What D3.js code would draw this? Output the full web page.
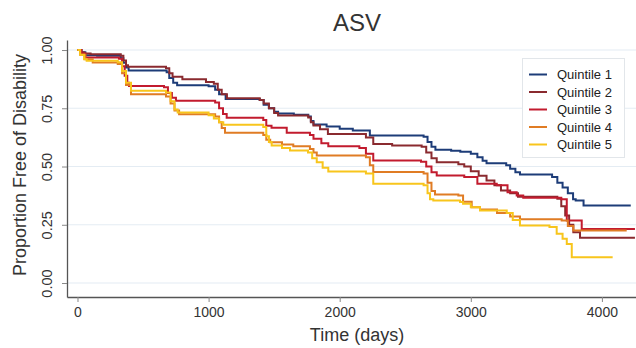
<!DOCTYPE html>
<html>
<head>
<meta charset="utf-8">
<script src="https://cdn.jsdelivr.net/npm/d3@7"></script>
<style>
  body { margin: 0; background: #fff; }
  text { font-family: "Liberation Sans", Arial, sans-serif; }
</style>
</head>
<body>
<svg id="chart" width="636" height="348"></svg>
<script>
// Kaplan-Meier curves: [time (days), proportion free]
const quintiles = ["Quintile 1", "Quintile 2", "Quintile 3", "Quintile 4", "Quintile 5"];
const colors = ["#1d3c78", "#8a2a2f", "#c21b2e", "#e07c24", "#f8c51c"];

const q1 = [[0,1],[30,0.99],[60,0.978],[150,0.975],[330,0.965],[350,0.945],[370,0.925],[390,0.912],
  [680,0.905],[700,0.88],[730,0.86],[760,0.849],[1000,0.845],[1050,0.83],[1080,0.81],[1130,0.79],
  [1390,0.785],[1420,0.765],[1460,0.75],[1500,0.735],[1530,0.728],[1650,0.722],[1760,0.715],
  [1780,0.695],[1800,0.68],[1900,0.672],[2000,0.662],[2100,0.655],[2230,0.633],[2640,0.628],
  [2670,0.605],[2700,0.585],[2730,0.572],[2850,0.568],[2920,0.563],[3000,0.555],[3050,0.54],
  [3090,0.525],[3120,0.514],[3270,0.505],[3300,0.49],[3340,0.475],[3375,0.466],[3620,0.455],
  [3660,0.43],[3700,0.41],[3740,0.385],[3780,0.36],[3800,0.354],[3860,0.333],[4220,0.333]];
const q2 = [[0,1],[30,0.99],[50,0.985],[100,0.982],[330,0.975],[350,0.955],[370,0.935],[385,0.928],
  [675,0.922],[700,0.9],[725,0.885],[800,0.875],[980,0.863],[1040,0.855],[1070,0.83],[1100,0.81],
  [1140,0.793],[1390,0.785],[1420,0.77],[1460,0.75],[1500,0.73],[1530,0.719],[1760,0.71],
  [1780,0.69],[1800,0.676],[1850,0.66],[1910,0.64],[2200,0.625],[2256,0.597],[2400,0.59],
  [2625,0.585],[2660,0.56],[2700,0.535],[2740,0.518],[2905,0.51],[2950,0.5],[3000,0.48],
  [3060,0.46],[3120,0.44],[3180,0.42],[3230,0.397],[3300,0.385],[3360,0.37],[3660,0.362],
  [3690,0.33],[3720,0.29],[3750,0.25],[3782,0.218],[3833,0.194],[4252,0.194]];
const q3 = [[0,1],[30,0.985],[60,0.968],[316,0.962],[340,0.93],[360,0.89],[380,0.86],[393,0.846],
  [660,0.84],[690,0.815],[720,0.795],[751,0.782],[1050,0.775],[1080,0.75],[1110,0.725],[1138,0.709],
  [1417,0.7],[1440,0.675],[1480,0.666],[1596,0.645],[1773,0.635],[1800,0.619],[1860,0.6],
  [1913,0.587],[2150,0.58],[2200,0.555],[2256,0.526],[2620,0.52],[2660,0.5],[2700,0.475],
  [2740,0.461],[2950,0.455],[3050,0.426],[3198,0.42],[3280,0.39],[3350,0.376],[3400,0.366],
  [3690,0.36],[3732,0.268],[3846,0.232],[4252,0.232]];
const q4 = [[0,1],[20,0.98],[60,0.96],[116,0.946],[307,0.94],[340,0.9],[370,0.85],[408,0.81],
  [675,0.8],[710,0.77],[740,0.74],[775,0.724],[1050,0.715],[1080,0.69],[1100,0.665],[1125,0.645],
  [1417,0.635],[1440,0.615],[1470,0.604],[1560,0.595],[1646,0.587],[1773,0.575],[1800,0.56],
  [1825,0.547],[2200,0.54],[2230,0.505],[2256,0.476],[2640,0.47],[2670,0.43],[2700,0.395],
  [2727,0.38],[2905,0.376],[2941,0.349],[3007,0.325],[3070,0.316],[3200,0.3],[3300,0.285],
  [3375,0.274],[3693,0.268],[3740,0.245],[3782,0.225],[4189,0.225]];
const q5 = [[0,1],[20,0.98],[50,0.96],[70,0.954],[307,0.948],[340,0.91],[370,0.86],[408,0.825],
  [675,0.818],[710,0.78],[740,0.745],[764,0.732],[1000,0.72],[1040,0.706],[1080,0.69],[1112,0.679],
  [1417,0.67],[1440,0.63],[1460,0.605],[1481,0.59],[1560,0.58],[1621,0.569],[1758,0.56],
  [1790,0.535],[1825,0.518],[1870,0.495],[1913,0.479],[2200,0.47],[2256,0.426],[2640,0.42],
  [2670,0.385],[2689,0.36],[2714,0.354],[2918,0.348],[2941,0.34],[3000,0.325],[3070,0.311],
  [3274,0.3],[3320,0.27],[3375,0.247],[3600,0.24],[3655,0.211],[3700,0.19],[3732,0.168],
  [3770,0.111],[4082,0.111]];
const series = [q1, q2, q3, q4, q5];

const xTicks = [0, 1000, 2000, 3000, 4000];
const yTicks = [0, 0.25, 0.5, 0.75, 1];

const svg = d3.select("#chart");

const x = d3.scaleLinear().domain([-80, 4260]).range([67, 636]);
const y = d3.scaleLinear().domain([-0.06, 1.043]).range([297, 40]);

// grid
svg.append("g")
  .selectAll("line")
  .data(yTicks)
  .enter()
  .append("line")
  .attr("x1", 67)
  .attr("x2", 636)
  .attr("y1", d => y(d))
  .attr("y2", d => y(d))
  .attr("stroke", "#e4ecf3")
  .attr("stroke-width", 1.2);

// axes
const xAxis = svg.append("g")
  .attr("transform", "translate(0,297)")
  .call(d3.axisBottom(x).tickValues(xTicks).tickFormat(d3.format("d")).tickSize(5).tickSizeOuter(0).tickPadding(5));
xAxis.select(".domain").attr("stroke", "#555").attr("stroke-width", 1.3);
xAxis.selectAll(".tick line").attr("stroke", "#888");
xAxis.selectAll("text")
  .attr("fill", "#333")
  .style("font-size", "14px")
  .style("font-family", "Liberation Sans, Arial, sans-serif");

const yAxis = svg.append("g")
  .attr("transform", "translate(67,0)")
  .call(d3.axisLeft(y).tickValues(yTicks).tickFormat(d3.format(".2f")).tickSize(5).tickSizeOuter(0));
yAxis.select(".domain").attr("stroke", "#555").attr("stroke-width", 1.3);
yAxis.selectAll(".tick line").attr("stroke", "#888");
yAxis.selectAll("text")
  .attr("x", 0)
  .attr("dy", 0)
  .attr("transform", "translate(-15,0) rotate(-90)")
  .attr("text-anchor", "middle")
  .attr("fill", "#333")
  .style("font-size", "14.5px")
  .style("font-family", "Liberation Sans, Arial, sans-serif");

// curves
const line = d3.line()
  .x(d => x(d[0]))
  .y(d => y(d[1]))
  .curve(d3.curveStepAfter);

svg.append("g")
  .selectAll("path")
  .data(series)
  .enter()
  .append("path")
  .attr("d", line)
  .attr("fill", "none")
  .attr("stroke", (d, i) => colors[i])
  .attr("stroke-width", 2);

// titles
svg.append("text")
  .attr("x", 357)
  .attr("y", 31)
  .attr("text-anchor", "middle")
  .attr("fill", "#333")
  .style("font-size", "24px")
  .text("ASV");

svg.append("text")
  .attr("x", 357)
  .attr("y", 341)
  .attr("text-anchor", "middle")
  .attr("fill", "#333")
  .style("font-size", "18px")
  .text("Time (days)");

svg.append("text")
  .attr("transform", "translate(26,165) rotate(-90)")
  .attr("text-anchor", "middle")
  .attr("fill", "#333")
  .style("font-size", "18px")
  .text("Proportion Free of Disability");

// legend
const legend = svg.append("g");
legend.append("rect")
  .attr("x", 522.5)
  .attr("y", 58.5)
  .attr("width", 102)
  .attr("height", 99)
  .attr("fill", "#fff")
  .attr("stroke", "#e2e6ea");

const item = legend.selectAll(".item")
  .data(quintiles)
  .enter()
  .append("g")
  .attr("transform", (d, i) => `translate(0,${74.5 + i * 17.5})`);
item.append("line")
  .attr("x1", 529)
  .attr("x2", 547)
  .attr("stroke", (d, i) => colors[i])
  .attr("stroke-width", 2);
item.append("text")
  .attr("x", 557)
  .attr("dy", "0.35em")
  .attr("fill", "#222")
  .style("font-size", "13px")
  .text(d => d);
</script>
</body>
</html>
